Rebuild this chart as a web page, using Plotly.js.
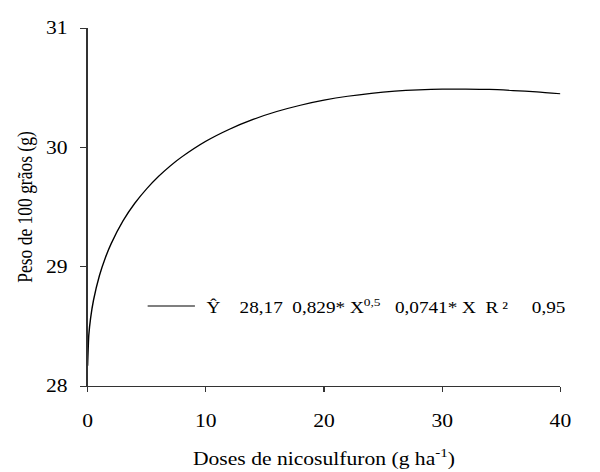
<!DOCTYPE html>
<html>
<head>
<meta charset="utf-8">
<script src="https://cdn.plot.ly/plotly-3.0.1.min.js"></script>
<style>
html,body{margin:0;padding:0;background:#fff;overflow:hidden;}
#chart{width:500px;height:472px;transform:scaleX(1.2);transform-origin:0 0;}
</style>
</head>
<body>
<div id="chart"></div>
<script>
// Dose of nicosulfuron (g ha-1) and 100-grain weight (g)
var doses = [0, 0.1, 0.25, 0.5, 1, 1.5, 2, 3, 4, 5, 6, 7, 8, 10, 12, 14, 16, 18, 20, 22, 24, 26, 28, 30, 32, 34, 36, 38, 40];
var peso  = [28.17, 28.425, 28.566, 28.719, 28.925, 29.074, 29.194, 29.384, 29.532, 29.653, 29.756, 29.845, 29.922, 30.051, 30.152, 30.234, 30.300, 30.353, 30.395, 30.428, 30.453, 30.471, 30.482, 30.488, 30.488, 30.485, 30.476, 30.465, 30.449];
var xTicks = [0, 10, 20, 30, 40];
var yTicks = [28, 29, 30, 31];
var eqParts = ['Ŷ', '28,17', '0,829* X<sup>0,5</sup>', '0,0741* X', 'R\u2009²', '0,95'];

var NB = function (n) { return Array(n + 1).join('\u00A0'); };
var legendLabel = eqParts[0] + NB(4) + eqParts[1] + NB(2) + eqParts[2] + NB(3) + eqParts[3] + NB(2) + eqParts[4] + NB(5) + eqParts[5];

var FAM = '"Liberation Serif", "Times New Roman", serif';
var trace = {
  x: doses, y: peso, type: 'scatter', mode: 'lines',
  line: {color: '#000', width: 1.2, shape: 'spline', smoothing: 0.6},
  showlegend: false, hoverinfo: 'skip'
};
var layout = {
  width: 500, height: 472,
  margin: {l: 73.3, r: 33.3, t: 28, b: 86},
  paper_bgcolor: '#fff', plot_bgcolor: '#fff',
  font: {family: FAM, color: '#000'},
  showlegend: false,
  shapes: [{type: 'line', xref: 'paper', yref: 'paper', x0: 0.127, x1: 0.227, y0: 0.2235, y1: 0.2235,
            line: {color: '#000', width: 1.2}}],
  annotations: [{xref: 'paper', yref: 'paper', x: 0.246, y: 0.2235, xanchor: 'left', yanchor: 'middle',
                 showarrow: false, text: legendLabel, font: {family: FAM, size: 16, color: '#000'}}],
  xaxis: {
    range: [0, 40], tickvals: xTicks, ticktext: xTicks.map(String),
    showgrid: false, zeroline: false, showline: true, linecolor: '#333', linewidth: 1,
    ticks: 'outside', ticklen: 5, tickcolor: '#333', ticklabelstandoff: 13,
    tickfont: {family: FAM, size: 18, color: '#000'},
    title: {text: 'Doses de nicosulfuron (g ha<sup>-1</sup>)', font: {family: FAM, size: 18, color: '#000'}, standoff: 22}
  },
  yaxis: {
    range: [28, 31], tickvals: yTicks, ticktext: yTicks.map(String),
    showgrid: false, zeroline: false, showline: true, linecolor: '#333', linewidth: 1,
    ticks: 'outside', ticklen: 5, tickcolor: '#333', ticklabelstandoff: 7,
    tickfont: {family: FAM, size: 18, color: '#000'},
    title: {text: 'Peso de 100 grãos (g)', font: {family: FAM, size: 17.5, color: '#000'}, standoff: 6}
  }
};
Plotly.newPlot('chart', [trace], layout, {displayModeBar: false, staticPlot: true});
</script>
</body>
</html>
